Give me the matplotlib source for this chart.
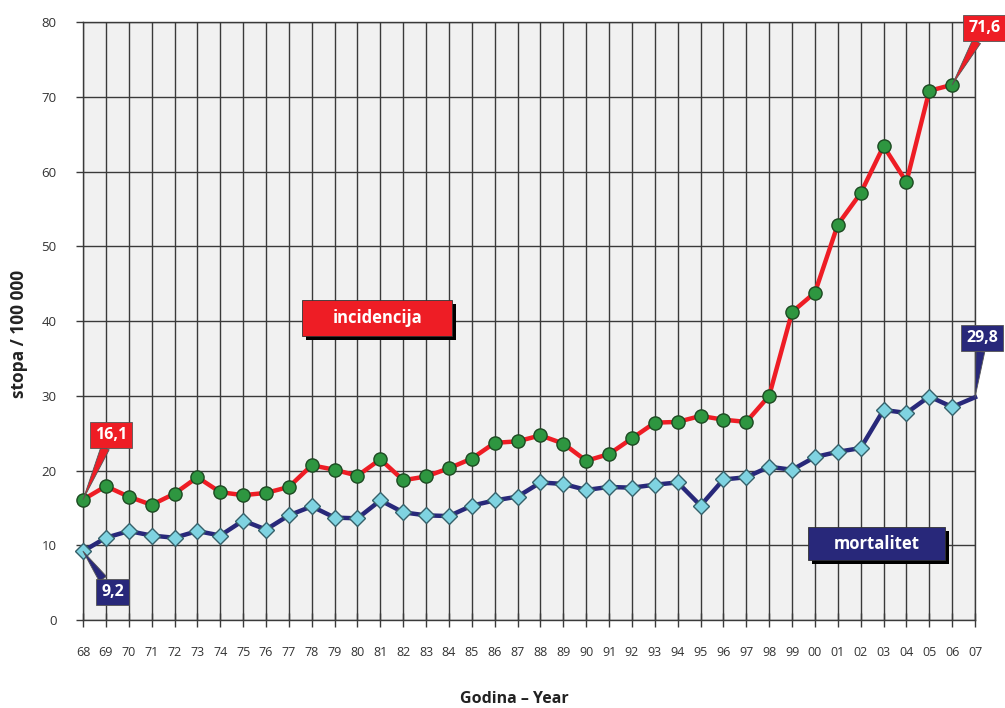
import numpy as np
import matplotlib
matplotlib.use("Agg")
import matplotlib.pyplot as plt
from matplotlib.patches import Rectangle

plt.rcParams['font.family'] = ['Open Sans', 'DejaVu Sans']

# --- data ---
years = ['68', '69', '70', '71', '72', '73', '74', '75', '76', '77',
         '78', '79', '80', '81', '82', '83', '84', '85', '86', '87',
         '88', '89', '90', '91', '92', '93', '94', '95', '96', '97',
         '98', '99', '00', '01', '02', '03', '04', '05', '06', '07']

incidencija = [16.1, 17.9, 16.5, 15.4, 16.9, 19.1, 17.1, 16.7, 17.0, 17.8,
               20.7, 20.1, 19.3, 21.5, 18.7, 19.2, 20.3, 21.6, 23.7, 23.9,
               24.7, 23.6, 21.3, 22.2, 24.3, 26.4, 26.5, 27.3, 26.8, 26.5,
               30.0, 41.2, 43.8, 52.9, 57.1, 63.4, 58.6, 70.8, 71.6]

mortalitet = [9.2, 11.0, 11.9, 11.3, 11.0, 11.9, 11.3, 13.3, 12.1, 14.0,
              15.2, 13.7, 13.6, 16.0, 14.4, 14.0, 13.9, 15.3, 16.0, 16.5,
              18.4, 18.2, 17.4, 17.8, 17.7, 18.1, 18.4, 15.3, 18.8, 19.1,
              20.5, 20.1, 21.8, 22.5, 23.0, 28.1, 27.7, 29.9, 28.5, 29.8]

y_ticks = [0, 10, 20, 30, 40, 50, 60, 70, 80]

RED = "#ee1d25"
NAVY = "#28287a"
GREEN = "#2e9640"
CYAN = "#7fd3e1"

x_inc = np.arange(len(incidencija))
x_mor = np.arange(len(mortalitet))

fig = plt.figure(figsize=(10.05, 7.08), dpi=100)
ax = fig.add_axes([0.0826, 0.1243, 0.8876, 0.8446])
ax.set_facecolor("#f1f1f1")

ax.set_xlim(0, len(years) - 1)
ax.set_ylim(0, 80)
ax.set_xticks(np.arange(len(years)))
ax.set_xticklabels(years)
ax.set_yticks(y_ticks)

ax.grid(True, color="#3a3a3a", lw=1.0)
ax.set_axisbelow(True)
for s in ax.spines.values():
    s.set_color("#3a3a3a")
    s.set_linewidth(1.0)

ax.tick_params(axis="x", direction="inout", length=10, width=1.0,
               color="#3a3a3a", pad=14, labelsize=9, labelcolor="#333333")
ax.tick_params(axis="y", direction="out", length=5, width=1.0,
               color="#3a3a3a", pad=14, labelsize=9.5, labelcolor="#333333")

# series
ax.plot(x_inc, incidencija, color=RED, lw=3.2, zorder=4, clip_on=False,
        marker="o", ms=9.5, mfc=GREEN, mec="#1d4a22", mew=1.0)
ax.plot(x_mor, mortalitet, color=NAVY, lw=3.2, zorder=3, clip_on=False,
        marker="D", ms=8, mfc=CYAN, mec="#35606a", mew=1.0,
        markevery=list(range(len(mortalitet) - 1)))

ax.set_ylabel("stopa / 100 000", fontsize=12.5, fontweight="bold",
              color="#222222", va="center")
ax.yaxis.set_label_coords(-0.072, 0.478)
ax.set_xlabel("Godina \u2013 Year", fontsize=11.5, fontweight="bold",
              color="#222222", va="center")
ax.xaxis.set_label_coords(0.484, -0.132)


# callouts for first / last values
def callout(xy, xytext, text, color):
    ax.annotate(text, xy=xy, xytext=xytext, textcoords="data",
                ha="center", va="center", fontsize=11.5, fontweight="bold",
                color="white", annotation_clip=False, zorder=6,
                bbox=dict(boxstyle="square,pad=0.32", fc=color, ec="#555555", lw=0.6),
                arrowprops=dict(arrowstyle="wedge,tail_width=0.55,shrink_factor=0.5",
                                fc=color, ec="#555555", lw=0.6,
                                shrinkA=0, shrinkB=0))


callout((x_inc[0], incidencija[0]), (1.22, 24.8), "16,1", RED)
callout((x_mor[0], mortalitet[0]), (1.29, 3.7), "9,2", NAVY)
callout((x_inc[-1], incidencija[-1]), (39.4, 79.2), "71,6", RED)
callout((x_mor[-1], mortalitet[-1]), (39.3, 37.7), "29,8", NAVY)


# series tags with shadow
def tag(xc, yc, w, h, text, color):
    dx, dy = 0.17, -0.55
    ax.add_patch(Rectangle((xc - w / 2 + dx, yc - h / 2 + dy), w, h,
                           fc="black", ec="none", zorder=5))
    ax.add_patch(Rectangle((xc - w / 2, yc - h / 2), w, h,
                           fc=color, ec="#333333", lw=0.6, zorder=5))
    ax.text(xc, yc, text, ha="center", va="center", fontsize=12,
            fontweight="bold", color="white", zorder=6)


tag(12.86, 40.4, 6.56, 4.8, "incidencija", RED)
tag(34.7, 10.2, 5.99, 4.4, "mortalitet", NAVY)

fig.savefig("out.png", dpi=100)
